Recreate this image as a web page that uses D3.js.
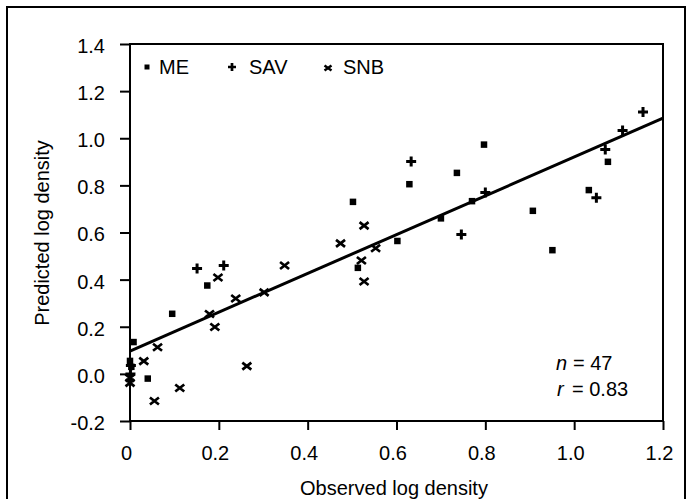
<!DOCTYPE html>
<html>
<head>
<meta charset="utf-8">
<script src="https://cdn.jsdelivr.net/npm/d3@7"></script>
<style>
  html, body { margin: 0; padding: 0; background: #fff; }
  svg { display: block; font-family: "Liberation Sans", Arial, sans-serif; }
</style>
</head>
<body>
<div class="chart"></div>
<script>
// Taille de la figure
const width = 687;
const height = 499;
const margin = { top: 44, right: 24, bottom: 78, left: 130 };
const fontSize = 20;

const meX  = [0.000, 0.003, 0.008, 0.040, 0.095, 0.174, 0.502, 0.513, 0.602, 0.629, 0.700, 0.736, 0.770, 0.797, 0.907, 0.951, 1.033, 1.076];
const meY  = [0.055, 0.030, 0.135, -0.020, 0.255, 0.375, 0.730, 0.450, 0.564, 0.805, 0.660, 0.853, 0.733, 0.973, 0.692, 0.525, 0.780, 0.900];
const savX = [0.002, 0.001, 0.151, 0.211, 0.633, 0.746, 0.800, 1.050, 1.070, 1.109, 1.155];
const savY = [0.036, 0.000, 0.447, 0.460, 0.901, 0.592, 0.770, 0.747, 0.952, 1.033, 1.111];
const snbX = [0.000, 0.000, 0.031, 0.055, 0.062, 0.112, 0.179, 0.191, 0.198, 0.238, 0.263, 0.302, 0.348, 0.474, 0.521, 0.527, 0.527, 0.553];
const snbY = [-0.038, -0.017, 0.054, -0.115, 0.113, -0.060, 0.254, 0.199, 0.409, 0.320, 0.033, 0.346, 0.460, 0.554, 0.481, 0.629, 0.392, 0.533];

// Droite de régression
const fitX = [0, 1.2];
const fitY = [0.097, 1.085];

// Graduations
const xTicks = [0, 0.2, 0.4, 0.6, 0.8, 1.0, 1.2];
const yTicks = [-0.2, 0, 0.2, 0.4, 0.6, 0.8, 1.0, 1.2, 1.4];

const series = ['ME', 'SAV', 'SNB'];

// Formes des marqueurs
function squarePath(s) {
  const h = s / 2;
  return `M${-h},${-h}H${h}V${h}H${-h}Z`;
}
function plusPath(s) {
  const h = s / 2;
  return `M${-h},0H${h}M0,${-h}V${h}`;
}
function crossPath(w, h) {
  return `M${-w / 2},${-h / 2}L${w / 2},${h / 2}M${-w / 2},${h / 2}L${w / 2},${-h / 2}`;
}

// Format avec un tiret simple pour les négatifs
const fmt = d => d3.format('.1f')(d).replace('\u2212', '-');

const svg = d3.select('.chart')
  .append('svg')
  .attr('width', width)
  .attr('height', height);

// Cadre extérieur
svg.append('rect')
  .attr('x', 7).attr('y', 7)
  .attr('width', 678).attr('height', 520)
  .attr('fill', 'none')
  .attr('stroke', '#000')
  .attr('stroke-width', 2);

const x = d3.scaleLinear()
  .domain([0, 1.2])
  .range([margin.left, width - margin.right]);

const y = d3.scaleLinear()
  .domain([-0.2, 1.4])
  .range([height - margin.bottom, margin.top]);

// Axe horizontal
svg.append('g')
  .attr('transform', `translate(0, ${y(-0.2)})`)
  .call(d3.axisBottom(x)
    .tickValues(xTicks)
    .tickSize(9)
    .tickPadding(16)
    .tickFormat(d => d === 0 ? '0' : fmt(d)))
  .call(g => g.select('.domain').remove())
  .call(g => g.selectAll('line').attr('stroke-width', 2))
  .call(g => g.selectAll('text')
    .attr('font-size', fontSize)
    .attr('font-family', '"Liberation Sans", Arial, sans-serif')
    .attr('dx', -4)
    .attr('fill', '#000'));

// Axe vertical
svg.append('g')
  .attr('transform', `translate(${x(0)}, 0)`)
  .call(d3.axisLeft(y)
    .tickValues(yTicks)
    .tickSize(10)
    .tickPadding(15)
    .tickFormat(fmt))
  .call(g => g.select('.domain').remove())
  .call(g => g.selectAll('line').attr('stroke-width', 2))
  .call(g => g.selectAll('text')
    .attr('font-size', fontSize)
    .attr('font-family', '"Liberation Sans", Arial, sans-serif')
    .attr('dy', '0.42em')
    .attr('fill', '#000'));

// Cadre du graphique
svg.append('rect')
  .attr('x', x(0))
  .attr('y', y(1.4))
  .attr('width', x(1.2) - x(0))
  .attr('height', y(-0.2) - y(1.4))
  .attr('fill', 'none')
  .attr('stroke', '#000')
  .attr('stroke-width', 2);

// Droite de régression
svg.append('line')
  .attr('x1', x(fitX[0])).attr('y1', y(fitY[0]))
  .attr('x2', x(fitX[1])).attr('y2', y(fitY[1]))
  .attr('stroke', '#000')
  .attr('stroke-width', 3);

// Points
const pts = svg.append('g');

pts.selectAll('path.me')
  .data(d3.zip(meX, meY))
  .join('path')
    .attr('class', 'me')
    .attr('transform', d => `translate(${x(d[0])}, ${y(d[1])})`)
    .attr('d', squarePath(6.5))
    .attr('fill', '#000');

pts.selectAll('path.sav')
  .data(d3.zip(savX, savY))
  .join('path')
    .attr('class', 'sav')
    .attr('transform', d => `translate(${x(d[0])}, ${y(d[1])})`)
    .attr('d', plusPath(10))
    .attr('stroke', '#000')
    .attr('stroke-width', 3)
    .attr('fill', 'none');

pts.selectAll('path.snb')
  .data(d3.zip(snbX, snbY))
  .join('path')
    .attr('class', 'snb')
    .attr('transform', d => `translate(${x(d[0])}, ${y(d[1])})`)
    .attr('d', crossPath(9, 7))
    .attr('stroke', '#000')
    .attr('stroke-width', 2.7)
    .attr('fill', 'none');

// Légende
const legend = svg.append('g')
  .attr('font-size', fontSize)
  .attr('fill', '#000');
const legendPos = [147, 232, 328];
const legendText = [159, 249, 343];

legend.append('path')
  .attr('transform', `translate(${legendPos[0]}, 67)`)
  .attr('d', squarePath(5));
legend.append('path')
  .attr('transform', `translate(${legendPos[1]}, 67)`)
  .attr('d', plusPath(8))
  .attr('stroke', '#000').attr('stroke-width', 2.7);
legend.append('path')
  .attr('transform', `translate(${legendPos[2]}, 68)`)
  .attr('d', crossPath(7, 5))
  .attr('stroke', '#000').attr('stroke-width', 2.5);

legend.selectAll('text')
  .data(series)
  .join('text')
    .attr('x', (d, i) => legendText[i])
    .attr('y', 74)
    .text(d => d);

// Statistiques
const stats = svg.append('g')
  .attr('font-size', fontSize)
  .attr('fill', '#000');
stats.append('text')
  .attr('x', 556).attr('y', 370)
  .attr('font-style', 'italic')
  .text('n');
stats.append('text')
  .attr('x', 573).attr('y', 370)
  .text('= 47');
stats.append('text')
  .attr('x', 557).attr('y', 396)
  .attr('font-style', 'italic')
  .text('r');
stats.append('text')
  .attr('x', 572).attr('y', 396)
  .text('= 0.83');

// Titres des axes
svg.append('text')
  .attr('x', 394)
  .attr('y', 495)
  .attr('text-anchor', 'middle')
  .attr('font-size', fontSize)
  .text('Observed log density');

svg.append('text')
  .attr('transform', 'translate(49, 233) rotate(-90)')
  .attr('text-anchor', 'middle')
  .attr('font-size', fontSize)
  .text('Predicted log density');
</script>
</body>
</html>
